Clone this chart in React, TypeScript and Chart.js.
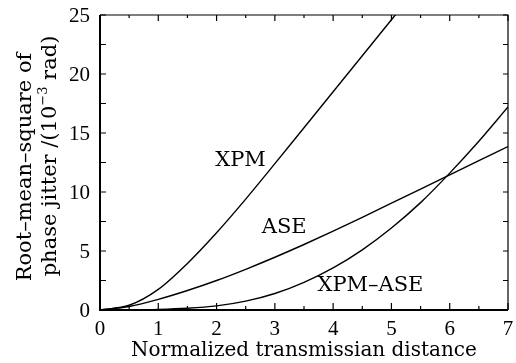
import React, { useEffect, useRef } from "react";
import { Chart, registerables } from "chart.js";

Chart.register(...registerables);

// ---- data ----
const xValues = [0, 0.5, 1, 1.5, 2, 2.5, 3, 3.5, 4, 4.5, 5, 5.5, 6, 6.5, 7];
const xpm = [0, 0.4, 1.75, 3.95, 6.55, 9.4, 12.4, 15.45, 18.5, 21.55, 24.6, 27.65, 30.7, 33.75, 36.8];
const ase = [0, 0.3, 0.9, 1.65, 2.5, 3.45, 4.47, 5.55, 6.68, 7.85, 9.05, 10.25, 11.45, 12.65, 13.85];
const xpmAse = [0, 0.01, 0.05, 0.15, 0.35, 0.75, 1.4, 2.35, 3.57, 5.1, 6.95, 9.1, 11.6, 14.3, 17.2];

const seriesLabels = ["XPM", "ASE", "XPM\u2013ASE"];
// label anchors in data coordinates (x, y)
const labelX = [2.41, 3.16, 4.64];
const labelY = [12.7, 6.95, 2.03];

const xTickValues = [0, 1, 2, 3, 4, 5, 6, 7];
const yTickValues = [0, 5, 10, 15, 20, 25];
const xTitle = "Normalized transmissian distance";
const yTitleLine1 = "Root\u2013mean\u2013square of";
const yTitleLine2 = ["phase jitter /(10", "\u22123", " rad)"];

const TEXT_FONT = "'DejaVu Serif', serif";
const TICK_FONT = "'Liberation Serif', 'Times New Roman', Times, 'DejaVu Serif', serif";

const framePlugin = {
  id: "framePlugin",
  afterDraw(chart: any) {
    const { ctx, chartArea } = chart;
    const xs = chart.scales.x;
    const ys = chart.scales.y;
    const { left, right, top, bottom } = chartArea;
    ctx.save();
    ctx.strokeStyle = "#000";
    // frame
    ctx.lineWidth = 1.2;
    ctx.beginPath();
    ctx.moveTo(left, top);
    ctx.lineTo(right, top);
    ctx.lineTo(right, bottom);
    ctx.stroke();
    ctx.lineWidth = 2;
    ctx.beginPath();
    ctx.moveTo(left, top);
    ctx.lineTo(left, bottom);
    ctx.lineTo(right, bottom);
    ctx.stroke();

    // ticks
    ctx.lineWidth = 1.2;
    ctx.beginPath();
    for (let v = 0; v <= 7.001; v += 0.5) {
      const px = xs.getPixelForValue(v);
      const major = Math.abs(v - Math.round(v)) < 1e-6;
      const lb = major ? 7 : 4;
      const lt = major ? 6 : 3;
      ctx.moveTo(px, bottom);
      ctx.lineTo(px, bottom - lb);
      ctx.moveTo(px, top);
      ctx.lineTo(px, top + lt);
    }
    for (let v = 0; v <= 25.001; v += 2.5) {
      const py = ys.getPixelForValue(v);
      ctx.moveTo(left, py);
      ctx.lineTo(left + 6, py);
      ctx.moveTo(right, py);
      ctx.lineTo(right - 5, py);
    }
    ctx.stroke();

    // tick labels
    ctx.fillStyle = "#000";
    ctx.font = `21px ${TICK_FONT}`;
    ctx.textBaseline = "middle";
    ctx.textAlign = "right";
    yTickValues.forEach((v) => {
      ctx.fillText(String(v), left - 10, ys.getPixelForValue(v) + 1);
    });
    ctx.textAlign = "center";
    xTickValues.forEach((v) => {
      ctx.fillText(String(v), xs.getPixelForValue(v), bottom + 19);
    });

    // series labels
    ctx.font = `21px ${TEXT_FONT}`;
    ctx.textAlign = "center";
    ctx.textBaseline = "middle";
    seriesLabels.forEach((t, i) => {
      ctx.fillText(t, xs.getPixelForValue(labelX[i]), ys.getPixelForValue(labelY[i]));
    });

    // x title
    ctx.font = `20px ${TEXT_FONT}`;
    ctx.fillText(xTitle, (left + right) / 2, 351);

    // y title
    ctx.font = `21px ${TEXT_FONT}`;
    ctx.save();
    ctx.translate(26, 167);
    ctx.rotate(-Math.PI / 2);
    ctx.fillText(yTitleLine1, 0, 0);
    ctx.restore();

    ctx.save();
    ctx.translate(51, 156);
    ctx.rotate(-Math.PI / 2);
    ctx.textAlign = "left";
    const mainFont = `21px ${TEXT_FONT}`;
    const supFont = `13px ${TEXT_FONT}`;
    ctx.font = mainFont;
    const w0 = ctx.measureText(yTitleLine2[0]).width;
    const w2 = ctx.measureText(yTitleLine2[2]).width;
    ctx.font = supFont;
    const w1 = ctx.measureText(yTitleLine2[1]).width;
    const total = w0 + w1 + w2;
    let cx = -total / 2;
    ctx.font = mainFont;
    ctx.fillText(yTitleLine2[0], cx, 0);
    cx += w0;
    ctx.font = supFont;
    ctx.fillText(yTitleLine2[1], cx, -7);
    cx += w1;
    ctx.font = mainFont;
    ctx.fillText(yTitleLine2[2], cx, 0);
    ctx.restore();

    ctx.restore();
  },
};

export default function App() {
  const ref = useRef<HTMLCanvasElement | null>(null);

  useEffect(() => {
    document.body.style.margin = "0";
    const canvas = ref.current;
    if (!canvas) return;
    const mk = (vals: number[]) => xValues.map((x, i) => ({ x, y: vals[i] }));
    const lineStyle = {
      borderColor: "#000",
      borderWidth: 1.4,
      pointRadius: 0,
      fill: false,
      cubicInterpolationMode: "monotone" as const,
    };
    const chart = new Chart(canvas, {
      type: "line",
      data: {
        datasets: [
          { label: seriesLabels[0], data: mk(xpm), ...lineStyle },
          { label: seriesLabels[1], data: mk(ase), ...lineStyle },
          { label: seriesLabels[2], data: mk(xpmAse), ...lineStyle },
        ],
      },
      options: {
        animation: false,
        responsive: false,
        events: [],
        layout: { padding: { top: 15, right: 8, left: 0, bottom: 0 } },
        plugins: { legend: { display: false }, tooltip: { enabled: false } },
        scales: {
          x: {
            type: "linear",
            min: 0,
            max: 7,
            afterFit: (s: any) => {
              s.height = 53;
            },
            ticks: { display: false },
            grid: { display: false, drawTicks: false },
            border: { display: false },
          },
          y: {
            min: 0,
            max: 25,
            afterFit: (s: any) => {
              s.width = 100;
            },
            ticks: { display: false },
            grid: { display: false, drawTicks: false },
            border: { display: false },
          },
        },
      },
      plugins: [framePlugin],
    });
    return () => chart.destroy();
  }, []);

  return <canvas ref={ref} width={516} height={363} style={{ display: "block" }} />;
}
